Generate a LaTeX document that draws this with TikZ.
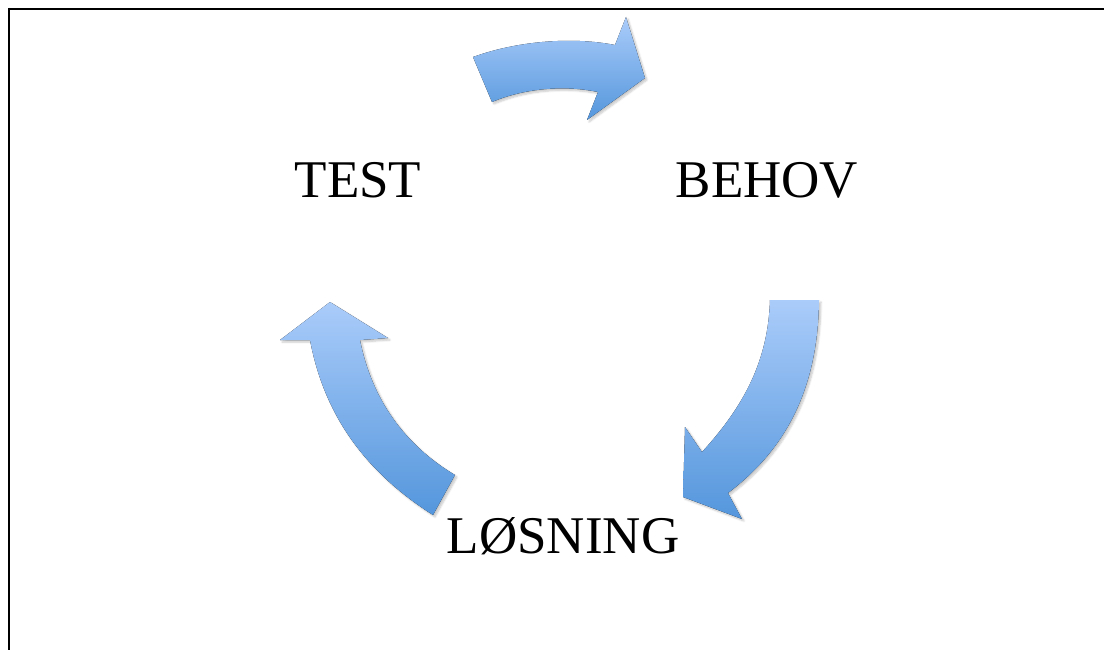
\documentclass[tikz,border=0pt]{standalone}
\usepackage{fontspec}
\setmainfont{Liberation Serif}
\usetikzlibrary{shadows.blur}
\definecolor{arrowlight}{RGB}{170,204,250}
\definecolor{arrowdark}{RGB}{84,150,220}
\tikzset{
  cyclearrow/.style={top color=arrowlight, bottom color=arrowdark, draw=none,
    blur shadow={shadow xshift=2pt, shadow yshift=-2pt, shadow blur steps=6, shadow opacity=22}},
  phase/.style={font=\fontsize{53}{60}\selectfont, anchor=base, inner sep=0pt},
  frameline/.style={line width=2.2pt, draw=black}
}
\begin{document}
\begin{tikzpicture}[x=1pt,y=-1pt]
  \useasboundingbox (0,0) rectangle (1104,650);
  % partial frame: top and left edges
  \draw[frameline] (9,9) -- (1104,9);
  \draw[frameline] (9,8) -- (9,650);

  % phase labels
  \node[phase] (test) at (358,197) {TEST};
  \node[phase] (behov) at (767,197) {BEHOV};
  \node[phase] (losning) at (563,553) {LØSNING};

  % TEST -> BEHOV
  \fill[cyclearrow] (473,57) .. controls (520,40) and (575,37) .. (615,45)
    -- (626,17) -- (645,78) -- (587,120) -- (598,92)
    .. controls (565,85) and (525,88) .. (492,102) -- cycle;

  % BEHOV -> LØSNING
  \fill[cyclearrow] (770,300) -- (819,300)
    .. controls (818,390) and (785,450) .. (728,493)
    -- (742,519) -- (683,497) -- (685,427) -- (702,452)
    .. controls (745,405) and (768,360) .. (770,300) -- cycle;

  % LØSNING -> TEST
  \fill[cyclearrow] (330,302) -- (388,338) -- (360,340)
    .. controls (372,400) and (405,445) .. (455,475)
    -- (433,515)
    .. controls (370,475) and (325,420) .. (310,340)
    -- (280,340) -- cycle;
\end{tikzpicture}
\end{document}
